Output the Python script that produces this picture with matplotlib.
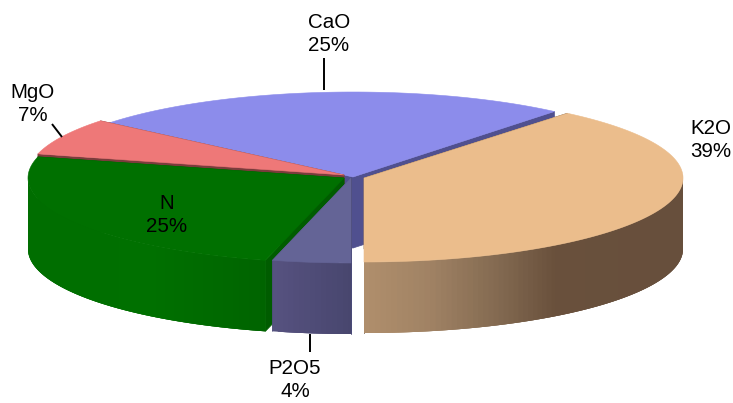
import numpy as np
import matplotlib
matplotlib.use("Agg")
import matplotlib.pyplot as plt

plt.rcParams['font.family'] = ['Liberation Sans', 'DejaVu Sans']

# ---- data (counter-clockwise on screen, starting at the bottom of the pie)
names = ["K2O", "CaO", "MgO", "N", "P2O5"]
values = [39, 25, 7, 25, 4]

# ---- style
apex = {"K2O": (364, 178), "CaO": (353, 177), "MgO": (344, 175), "N": (344, 178), "P2O5": (351, 178)}
radius_x = {"K2O": 319, "CaO": 316, "MgO": 316, "N": 316, "P2O5": 316}
radius_y = {"K2O": 84, "CaO": 85, "MgO": 85, "N": 85, "P2O5": 85}
DEPTH = 71
top_col = {"K2O": "#EBBD8C", "CaO": "#8C8CEB", "MgO": "#EE7878", "N": "#007000", "P2O5": "#646496"}
cut_col = {"K2O": "#6B5240", "CaO": "#50508F", "MgO": "#7A3C3C", "N": "#005C00", "P2O5": "#4A4A78"}
side_stops = {
    "K2O": ([364, 430, 500, 555, 683], [(176, 143, 108), (160, 130, 100), (130, 105, 80), (105, 80, 60), (103, 79, 60)]),
    "N": ([28, 150, 265], [(0, 110, 0), (0, 112, 0), (0, 100, 0)]),
    "P2O5": ([272, 352], [(86, 82, 128), (72, 70, 110)]),
    "CaO": ([0, 733], [(80, 80, 143), (80, 80, 143)]),
    "MgO": ([0, 733], [(122, 60, 60), (122, 60, 60)]),
}
label_pos = {"CaO": (329, 34), "K2O": (711, 140), "MgO": (33, 104), "N": (167, 215), "P2O5": (295, 380)}
leaders = [((324, 58), (324, 90)), ((52, 124), (62, 137)), ((310, 334), (310, 352))]
draw_order = ["CaO", "MgO", "K2O", "N", "P2O5"]

fig = plt.figure(figsize=(7.33, 4.03), dpi=100, facecolor="white")
ax = fig.add_axes([0, 0, 1, 1])
ax.set_xlim(0, 733)
ax.set_ylim(403, 0)
ax.axis("off")

spans = {}
ang = -90.0
for n, v in zip(names, values):
    d = 360.0 * v / sum(values)
    spans[n] = (ang, ang + d)
    ang += d


def rim(n, a):
    cx, cy = apex[n]
    t = np.radians(a)
    return cx + radius_x[n] * np.cos(t), cy - radius_y[n] * np.sin(t)


def draw_slice(n):
    a0, a1 = spans[n]
    cx, cy = apex[n]
    for a in (a0, a1):
        x, y = rim(n, a)
        ax.fill([cx, x, x, cx], [cy, y, y + DEPTH, cy + DEPTH],
                fc=cut_col[n], ec=cut_col[n], lw=0.5)
    # outer wall: overlapping strips so no seams show
    xs_stop, cs_stop = side_stops[n]
    cs_stop = np.array(cs_stop, float) / 255
    angs = np.append(np.arange(a0, a1, 1.0), a1)
    for i in range(len(angs) - 1):
        p, q = angs[i], angs[i + 1]
        if np.sin(np.radians((p + q) / 2)) > 0.02:
            continue
        r = angs[min(i + 3, len(angs) - 1)]
        sub = np.linspace(p, r, 8)
        pts = np.array([rim(n, a) for a in sub])
        xm = (rim(n, p)[0] + rim(n, q)[0]) / 2
        c = [np.interp(xm, xs_stop, cs_stop[:, k]) for k in range(3)]
        ax.fill(np.r_[pts[:, 0], pts[::-1, 0]], np.r_[pts[:, 1], pts[::-1, 1] + DEPTH],
                fc=c, ec="none", lw=0)
    angs = np.linspace(a0, a1, 200)
    pts = np.array([rim(n, a) for a in angs])
    ax.fill(np.r_[cx, pts[:, 0]], np.r_[cy, pts[:, 1]], fc=top_col[n], ec=top_col[n], lw=0.4)


for n in draw_order:
    draw_slice(n)

for (x0, y0), (x1, y1) in leaders:
    ax.plot([x0, x1], [y0, y1], color="black", lw=1.4, solid_capstyle="butt")

for n, v in zip(names, values):
    x, y = label_pos[n]
    ax.text(x, y, f"{n}\n{v}%", ha="center", va="center", fontsize=14.8,
            color="black", linespacing=1.32)

fig.savefig("out.png", dpi=100, facecolor="white")
